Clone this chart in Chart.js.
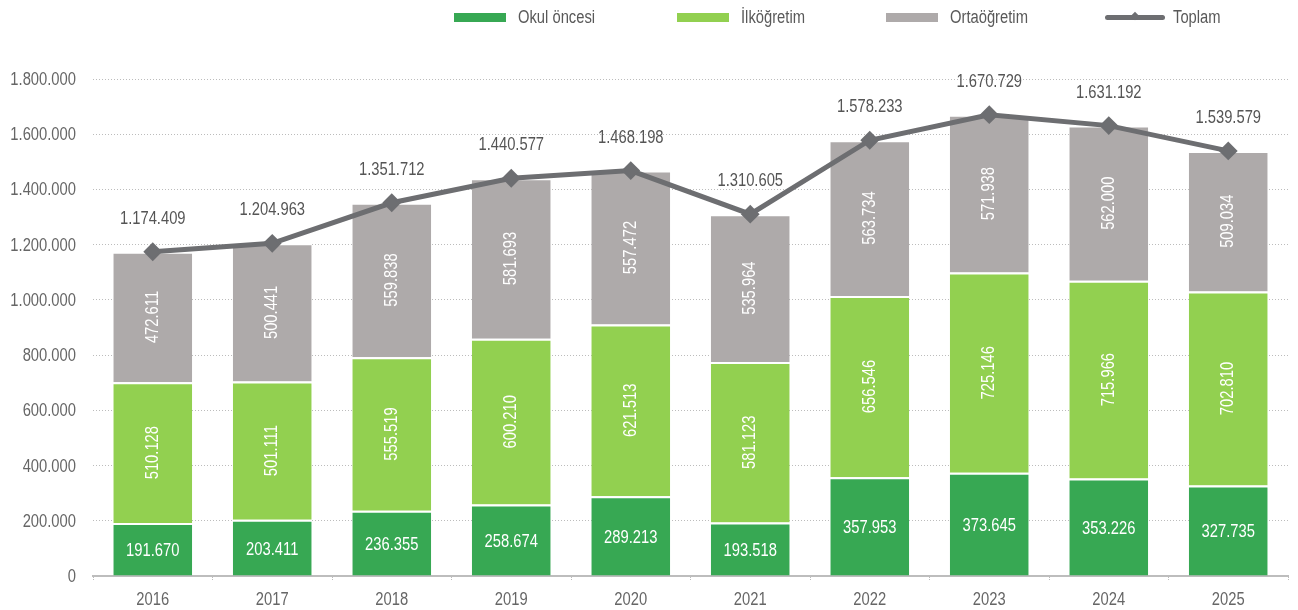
<!DOCTYPE html>
<html lang="tr">
<head>
<meta charset="utf-8">
<title>Öğrenci sayıları</title>
<script src="https://cdn.jsdelivr.net/npm/chart.js@4.4.1/dist/chart.umd.min.js"></script>
<style>
  html, body { margin: 0; padding: 0; background: #fff; }
  #wrap { position: relative; width: 1298px; height: 610px; }
  .lg { position: absolute; top: 6px; height: 22px; display: flex; align-items: center;
        font: 18px 'Liberation Sans', Arial, sans-serif; color: #595959; white-space: nowrap; }
  .lg span.t { display: inline-block; transform: scaleX(0.82); transform-origin: left center; }
  .lg i { display: inline-block; width: 52px; height: 9px; margin-right: 12px; }
  .lg .ln { position: relative; width: 60px; height: 5px; border-radius: 3px; background: #6d6e71; margin-right: 8px; }
  .lg .ln:after { content: ''; position: absolute; left: 27px; top: -1.5px; width: 6px; height: 6px;
                  background: #6d6e71; transform: rotate(45deg); }
</style>
</head>
<body>
<div id="wrap">
  <div class="lg" style="left:454px"><i style="background:#37a853"></i><span class="t">Okul öncesi</span></div>
  <div class="lg" style="left:677px"><i style="background:#92d050"></i><span class="t">İlköğretim</span></div>
  <div class="lg" style="left:886px"><i style="background:#aeaaaa"></i><span class="t">Ortaöğretim</span></div>
  <div class="lg" style="left:1105px"><span class="ln"></span><span class="t">Toplam</span></div>
  <canvas id="chart"></canvas>
</div>
<script>
/* ── data ── */
const years = ['2016','2017','2018','2019','2020','2021','2022','2023','2024','2025'];
const okulOncesi  = [191670, 203411, 236355, 258674, 289213, 193518, 357953, 373645, 353226, 327735];
const ilkogretim  = [510128, 501111, 555519, 600210, 621513, 581123, 656546, 725146, 715966, 702810];
const ortaogretim = [472611, 500441, 559838, 581693, 557472, 535964, 563734, 571938, 562000, 509034];
const toplam      = [1174409, 1204963, 1351712, 1440577, 1468198, 1310605, 1578233, 1670729, 1631192, 1539579];
const yTicks = [0, 200000, 400000, 600000, 800000, 1000000, 1200000, 1400000, 1600000, 1800000];

const FONT = "'Liberation Sans', Arial, sans-serif";
const NARROW = 0.82; // no Arial Narrow installed, squeeze Arial instead
const fmt = v => String(v).replace(/\B(?=(\d{3})+(?!\d))/g, '.');

function narrowText(ctx, text, x, y, rot) {
  ctx.save();
  ctx.translate(x, y);
  if (rot) ctx.rotate(rot);
  ctx.scale(NARROW, 1);
  ctx.fillText(text, 0, 0);
  ctx.restore();
}

/* ── axis + value labels ── */
const textLabels = {
  id: 'textLabels',
  afterDraw(chart) {
    const ctx = chart.ctx;
    const { x: xs, y: ys } = chart.scales;
    ctx.save();
    ctx.font = '18px ' + FONT;
    ctx.textBaseline = 'middle';

    // y ticks
    ctx.fillStyle = '#666';
    ctx.textAlign = 'right';
    ys.ticks.forEach(t => narrowText(ctx, fmt(t.value), chart.chartArea.left - 17, ys.getPixelForValue(t.value) + 1));

    // x ticks
    ctx.textAlign = 'center';
    years.forEach((yr, i) => narrowText(ctx, yr, xs.getPixelForValue(i), chart.chartArea.bottom + 24));

    // bar segments
    ctx.fillStyle = '#fff';
    [0, 1, 2].forEach(i => {
      const ds = chart.data.datasets[i];
      chart.getDatasetMeta(i).data.forEach((bar, j) => {
        const p = bar.getProps(['x', 'y', 'base'], true);
        const cy = (p.y + p.base) / 2;
        if (i === 0) narrowText(ctx, fmt(ds.data[j]), p.x, cy + 2);
        else narrowText(ctx, fmt(ds.data[j]), p.x, cy, -Math.PI / 2);
      });
    });

    // totals
    ctx.fillStyle = '#555';
    chart.getDatasetMeta(3).data.forEach((pt, j) => {
      narrowText(ctx, fmt(toplam[j]), pt.x, pt.y - 33);
    });
    ctx.restore();
  }
};

const gridCol = '#bcbcbc';
const noInk = 'rgba(0,0,0,0)';

new Chart(document.getElementById('chart'), {
  data: {
    labels: years,
    datasets: [
      { type: 'bar', label: 'Okul öncesi', data: okulOncesi, backgroundColor: '#37a853',
        borderColor: '#fff', borderWidth: { top: 2, left: 0, right: 0, bottom: 0 }, stack: 'b', order: 2 },
      { type: 'bar', label: 'İlköğretim', data: ilkogretim, backgroundColor: '#92d050',
        borderColor: '#fff', borderWidth: { top: 2, left: 0, right: 0, bottom: 0 }, stack: 'b', order: 2 },
      { type: 'bar', label: 'Ortaöğretim', data: ortaogretim, backgroundColor: '#aeaaaa',
        borderColor: '#fff', borderWidth: { top: 2, left: 0, right: 0, bottom: 0 }, stack: 'b', order: 2 },
      { type: 'line', label: 'Toplam', data: toplam, stack: 'l', order: 1,
        borderColor: '#6d6e71', borderWidth: 5, pointStyle: 'rectRot', pointRadius: 8,
        pointBackgroundColor: '#6d6e71', pointBorderColor: '#6d6e71', pointBorderWidth: 2,
        tension: 0, fill: false }
    ]
  },
  options: {
    responsive: true,
    maintainAspectRatio: false,
    animation: false,
    events: [],
    layout: { padding: { top: 79, right: 7, bottom: 0, left: 0 } },
    datasets: { bar: { barPercentage: 0.66, categoryPercentage: 1 } },
    plugins: { legend: { display: false }, tooltip: { enabled: false } },
    scales: {
      x: {
        stacked: true,
        afterFit: s => { s.height = 34; },
        grid: { drawOnChartArea: false, drawTicks: true, tickLength: 5, color: gridCol, tickBorderDash: [1, 1] },
        border: { display: true, color: '#bdbdbd', width: 2, dash: [1, 1] },
        ticks: { color: noInk, padding: 6, font: { family: FONT, size: 18 } }
      },
      y: {
        stacked: true,
        min: 0, max: 1800000,
        afterFit: s => { s.width = 93; },
        afterBuildTicks: s => { s.ticks = yTicks.map(v => ({ value: v })); },
        grid: { color: gridCol, drawTicks: false, lineWidth: 1 },
        border: { display: false, dash: [1, 2] },
        ticks: { color: noInk, padding: 17, font: { family: FONT, size: 18 }, callback: v => fmt(v) }
      }
    }
  },
  plugins: [textLabels]
});
</script>
</body>
</html>
